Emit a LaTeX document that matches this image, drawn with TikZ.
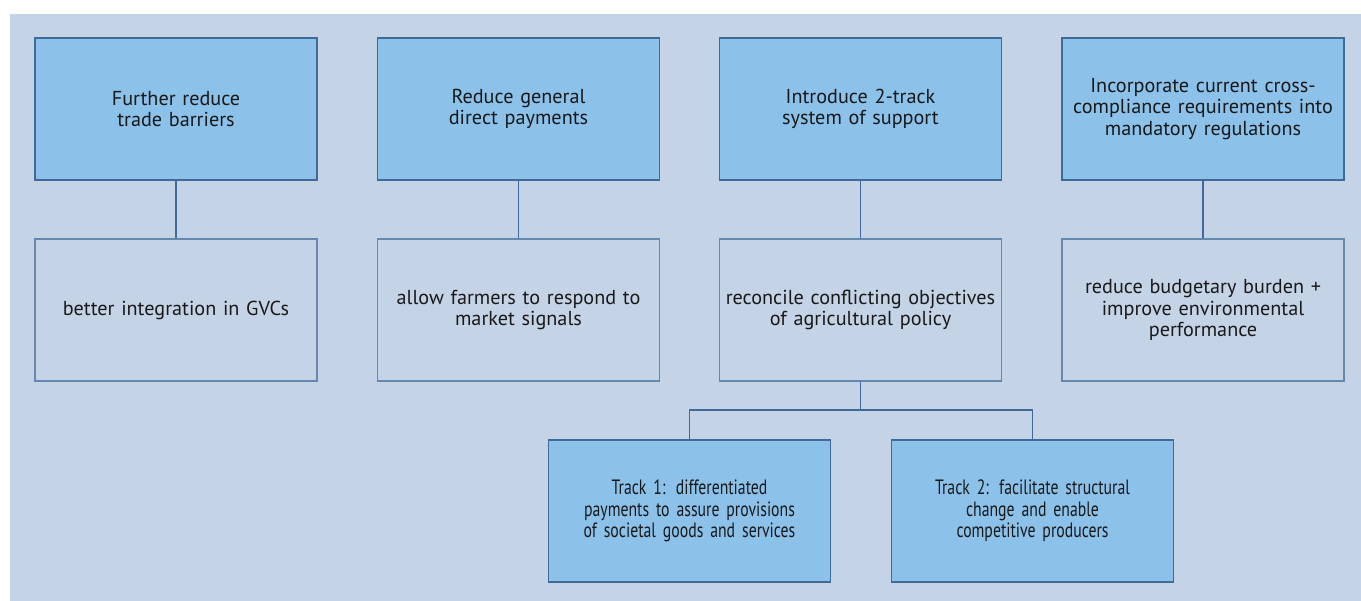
\documentclass[tikz,border=0pt]{standalone}
\usepackage{fontspec}
\setmainfont{PT Sans}
\newfontfamily\narrowsans[FakeStretch=0.76]{PT Sans}
\usepackage{tikz}

\definecolor{panel}{HTML}{C5D3E6}
\definecolor{boxblue}{HTML}{8CC1EA}
\definecolor{edgeblue}{HTML}{3F6A9A}

\begin{document}
\begin{tikzpicture}[x=0.02cm, y=-0.02cm, -, auto,
  measure/.style={rectangle, draw=edgeblue, line width=0.8pt, inner xsep=0pt, minimum width=5.64cm, minimum height=2.84cm, text width=5.5cm, align=center, font=\fontsize{11.5}{12}\selectfont, text=black!90},
  goal/.style={measure, fill=panel, draw=edgeblue!80},
  track/.style={measure, fill=boxblue, font=\narrowsans\fontsize{11.8}{12.2}\selectfont}]
  \useasboundingbox (0, 0) rectangle (1361, 601);
  \fill[panel] (10, 14) rectangle (1361, 601);
  \node[measure, fill=boxblue] (m1) at (176, 109) {Further reduce\\trade barriers};
  \node[measure, fill=boxblue] (m2) at (518.5, 109) {Reduce general\\direct payments};
  \node[measure, fill=boxblue] (m3) at (860.5, 109) {Introduce 2-track\\system of support};
  \node[measure, fill=boxblue] (m4) at (1203, 109) {Incorporate current cross-\\compliance requirements into\\mandatory regulations};
  \node[goal] (g1) at (176, 310) {better integration in GVCs};
  \node[goal] (g2) at (518.5, 310) {allow farmers to respond to\\market signals};
  \node[goal] (g3) at (860.5, 310) {reconcile conflicting objectives\\of agricultural policy};
  \node[goal] (g4) at (1203, 310) {reduce budgetary burden +\\improve environmental\\performance};
  \node[track] (t1) at (689.5, 511) {Track 1: differentiated\\payments to assure provisions\\of societal goods and services};
  \node[track] (t2) at (1032.5, 511) {Track 2: facilitate structural\\change and enable\\competitive producers};
  \path[draw=edgeblue, line width=1pt]
    (m1) edge (g1)
    (m2) edge (g2)
    (m3) edge (g3)
    (m4) edge (g4);
  \coordinate (split) at (860.5, 410);
  \draw[edgeblue, line width=1pt] (g3.south) -- (split) -| (t1.north);
  \draw[edgeblue, line width=1pt] (split) -| (t2.north);
\end{tikzpicture}
\end{document}
